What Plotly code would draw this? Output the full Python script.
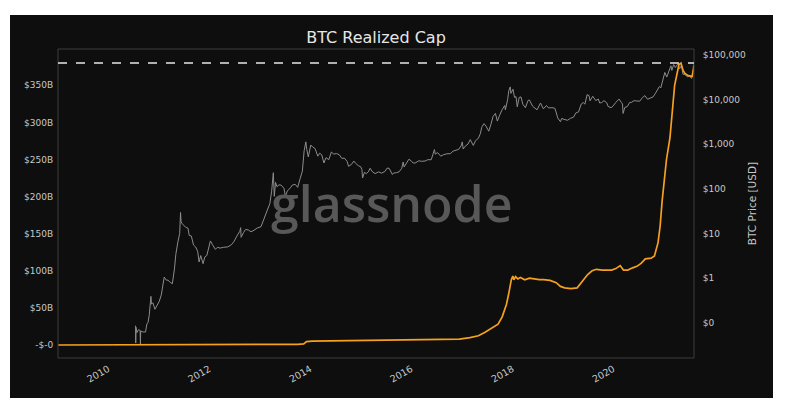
import plotly.graph_objects as go

# ---------------- data ----------------
price_dates = [
    "2010-07-18", "2010-07-19", "2010-07-21", "2010-07-28", "2010-08-08", "2010-08-20", "2010-08-22", "2010-08-24",
    "2010-09-10", "2010-09-28", "2010-10-08", "2010-10-16", "2010-10-25", "2010-11-06", "2010-11-10", "2010-11-20",
    "2010-12-05", "2010-12-20", "2011-01-05", "2011-01-20", "2011-02-10", "2011-02-25", "2011-03-10", "2011-03-25",
    "2011-04-10", "2011-04-25", "2011-05-05", "2011-05-20", "2011-06-02", "2011-06-08", "2011-06-12", "2011-06-20",
    "2011-07-01", "2011-07-15", "2011-08-01", "2011-08-10", "2011-08-25", "2011-09-10", "2011-09-25", "2011-10-10",
    "2011-10-20", "2011-11-01", "2011-11-18", "2011-12-01", "2011-12-15", "2012-01-01", "2012-01-10", "2012-01-25",
    "2012-02-15", "2012-03-01", "2012-03-20", "2012-04-15", "2012-05-15", "2012-06-10", "2012-06-30", "2012-07-20",
    "2012-08-10", "2012-08-16", "2012-08-19", "2012-09-05", "2012-09-20", "2012-10-10", "2012-10-30", "2012-11-20",
    "2012-12-15", "2013-01-10", "2013-01-30", "2013-02-15", "2013-03-01", "2013-03-15", "2013-03-28", "2013-04-09",
    "2013-04-16", "2013-04-25", "2013-05-05", "2013-05-20", "2013-06-05", "2013-06-25", "2013-07-05", "2013-07-20",
    "2013-08-10", "2013-08-25", "2013-09-15", "2013-10-02", "2013-10-20", "2013-11-05", "2013-11-18", "2013-11-30",
    "2013-12-07", "2013-12-18", "2013-12-28", "2014-01-05", "2014-01-20", "2014-02-05", "2014-02-25", "2014-03-10",
    "2014-03-25", "2014-04-10", "2014-04-25", "2014-05-15", "2014-06-03", "2014-06-20", "2014-07-10", "2014-07-30",
    "2014-08-18", "2014-09-05", "2014-09-25", "2014-10-05", "2014-10-25", "2014-11-12", "2014-11-25", "2014-12-15",
    "2014-12-31", "2015-01-10", "2015-01-14", "2015-01-28", "2015-02-10", "2015-02-25", "2015-03-10", "2015-03-25",
    "2015-04-15", "2015-05-10", "2015-06-01", "2015-06-25", "2015-07-10", "2015-07-25", "2015-08-18", "2015-08-25",
    "2015-09-15", "2015-10-05", "2015-10-25", "2015-11-04", "2015-11-11", "2015-11-25", "2015-12-15", "2015-12-30",
    "2016-01-15", "2016-01-30", "2016-02-25", "2016-03-15", "2016-04-10", "2016-04-30", "2016-05-25", "2016-06-05",
    "2016-06-17", "2016-06-23", "2016-07-10", "2016-08-02", "2016-08-20", "2016-09-15", "2016-10-10", "2016-10-30",
    "2016-11-20", "2016-12-10", "2016-12-30", "2017-01-04", "2017-01-11", "2017-01-25", "2017-02-15", "2017-03-03",
    "2017-03-25", "2017-04-10", "2017-04-30", "2017-05-15", "2017-05-25", "2017-06-10", "2017-06-25", "2017-07-15",
    "2017-07-30", "2017-08-15", "2017-09-01", "2017-09-15", "2017-09-30", "2017-10-20", "2017-11-08", "2017-11-12",
    "2017-11-28", "2017-12-07", "2017-12-17", "2017-12-22", "2018-01-06", "2018-01-17", "2018-01-28", "2018-02-06",
    "2018-02-20", "2018-03-05", "2018-03-18", "2018-04-06", "2018-04-25", "2018-05-05", "2018-05-28", "2018-06-15",
    "2018-06-29", "2018-07-24", "2018-08-14", "2018-09-05", "2018-09-20", "2018-10-15", "2018-11-05", "2018-11-20",
    "2018-11-25", "2018-12-15", "2018-12-25", "2019-01-10", "2019-02-05", "2019-02-25", "2019-03-20", "2019-04-05",
    "2019-04-25", "2019-05-15", "2019-05-30", "2019-06-10", "2019-06-26", "2019-07-10", "2019-07-17", "2019-08-06",
    "2019-08-28", "2019-09-15", "2019-09-25", "2019-10-10", "2019-10-26", "2019-11-15", "2019-11-25", "2019-12-17",
    "2019-12-31", "2020-01-20", "2020-02-12", "2020-02-28", "2020-03-08", "2020-03-12", "2020-03-25", "2020-04-10",
    "2020-04-30", "2020-05-10", "2020-05-31", "2020-06-20", "2020-07-10", "2020-07-30", "2020-08-17", "2020-09-05",
    "2020-09-25", "2020-10-15", "2020-10-30", "2020-11-15", "2020-11-30", "2020-12-10", "2020-12-20", "2021-01-08",
    "2021-01-22", "2021-02-08", "2021-02-21", "2021-02-28", "2021-03-13", "2021-03-25", "2021-04-13", "2021-04-25",
    "2021-05-08", "2021-05-19", "2021-06-01", "2021-06-22", "2021-07-05", "2021-07-20", "2021-07-30", "2021-08-07",
]
price_usd = [
    0.086, 0.035, 0.079, 0.06, 0.07, 0.067, 0.033, 0.065,
    0.062, 0.062, 0.095, 0.10, 0.15, 0.39, 0.26, 0.28,
    0.20, 0.25, 0.30, 0.42, 1.05, 0.90, 0.90, 0.80,
    0.75, 1.6, 3.4, 6.5, 10, 29.6, 18.5, 16.5,
    15.4, 13.8, 13.1, 9.0, 8.8, 5.5, 5.0, 4.0,
    2.3, 3.2, 2.1, 3.0, 3.2, 5.3, 6.8, 5.6,
    4.4, 4.9, 4.7, 4.9, 5.0, 5.6, 6.7, 8.8,
    11.2, 13.5, 8.2, 10.4, 12.3, 12.0, 10.9, 11.8,
    13.3, 14.2, 20.4, 27, 34, 47, 89, 230,
    68, 140, 112, 123, 121, 103, 68, 90,
    105, 122, 126, 108, 170, 250, 720, 1130,
    760, 520, 740, 960, 860, 800, 540, 630,
    580, 380, 500, 450, 670, 600, 620, 580,
    480, 490, 410, 320, 350, 420, 375, 330,
    315, 270, 175, 235, 220, 240, 290, 245,
    220, 240, 225, 245, 290, 290, 210, 225,
    230, 240, 290, 400, 310, 360, 460, 430,
    380, 380, 425, 415, 420, 450, 450, 580,
    760, 600, 650, 540, 580, 610, 615, 700,
    730, 770, 960, 1130, 780, 900, 1010, 1270,
    940, 1200, 1350, 1720, 2400, 2900, 2550, 1960,
    2750, 4200, 4900, 3300, 4340, 6000, 7400, 5900,
    9900, 16000, 19300, 13800, 17100, 11200, 11700, 6900,
    11200, 11500, 7900, 6600, 9600, 9800, 7100, 6500,
    5900, 8400, 6200, 7400, 6500, 6600, 6400, 4500,
    3900, 3200, 3800, 3600, 3450, 3800, 4050, 5000,
    5300, 8000, 8600, 7900, 12900, 12300, 9400, 11900,
    9500, 10300, 8400, 8600, 9500, 8500, 7000, 6600,
    7200, 8700, 10300, 8700, 8000, 4900, 6700, 6900,
    8700, 8600, 9500, 9300, 9200, 11100, 12300, 10200,
    10700, 11500, 13500, 16000, 19700, 18300, 24000, 40600,
    32000, 46500, 57400, 45200, 61200, 52300, 63500, 49000,
    58800, 37000, 36700, 32500, 33800, 29800, 42000, 44500,
]

rcap_dates = [
    "2009-01-03", "2010-07-18", "2011-06-01", "2012-06-01", "2013-01-01", "2013-04-15", "2013-10-01", "2013-11-15",
    "2013-11-25", "2013-12-05", "2014-01-15", "2014-06-01", "2015-01-01", "2015-06-01", "2016-01-01", "2016-06-15",
    "2016-12-15", "2017-03-01", "2017-05-01", "2017-06-15", "2017-08-15", "2017-09-20", "2017-10-20", "2017-11-20",
    "2017-12-05", "2017-12-25", "2018-01-05", "2018-01-12", "2018-01-25", "2018-02-10", "2018-03-01", "2018-04-01",
    "2018-05-05", "2018-06-01", "2018-07-15", "2018-08-15", "2018-10-01", "2018-11-15", "2018-12-15", "2019-01-15",
    "2019-03-01", "2019-04-15", "2019-05-20", "2019-06-30", "2019-08-01", "2019-09-01", "2019-10-15", "2019-11-20",
    "2019-12-20", "2020-01-20", "2020-02-20", "2020-03-15", "2020-04-15", "2020-05-20", "2020-06-20", "2020-07-20",
    "2020-08-20", "2020-10-01", "2020-10-25", "2020-11-20", "2020-12-05", "2020-12-20", "2021-01-05", "2021-01-20",
    "2021-02-14", "2021-03-20", "2021-04-20", "2021-05-05", "2021-05-20", "2021-06-02", "2021-06-25", "2021-07-10",
    "2021-07-25", "2021-08-03", "2021-08-07",
]
rcap_billion = [
    0.0, 0.0, 0.05, 0.15, 0.25, 0.6, 0.9, 1.6,
    3.0, 4.6, 5.3, 5.6, 5.8, 5.9, 6.3, 6.8,
    8.0, 10.0, 12.5, 17, 24, 28, 38, 55,
    68, 88, 93, 88, 92, 89, 91, 88,
    90, 89, 88, 88, 87, 84, 79, 77,
    76, 77, 85, 95, 100, 102, 101, 101,
    101, 103, 107, 101, 101, 104, 106, 110,
    116, 117, 120, 138, 160, 195, 220, 250,
    279, 350, 378, 380, 370, 366, 363, 362,
    362, 372, 378,
]

left_tickvals = [0, 50, 100, 150, 200, 250, 300, 350]
left_ticktext = ["-$-0", "$50B", "$100B", "$150B", "$200B", "$250B", "$300B", "$350B"]
right_tickvals = [0.1, 1, 10, 100, 1000, 10000, 100000]
right_ticktext = ["$0", "$1", "$10", "$100", "$1,000", "$10,000", "$100,000"]

# ---------------- style ----------------
BG = "#0e0e0e"
FONT = "DejaVu Sans"
TICK_COL = "#c8c8c8"
OFF = 8  # page body margin
W, H = 786, 398
ML, MR, MT, MB = 50, 100, 41, 48
PW, PH = W - ML - MR, H - MT - MB


def px_x(p):  # screen x pixel -> paper x
    return (p - OFF - ML) / PW


def px_y(p):  # screen y pixel -> paper y
    return (H - MB - (p - OFF)) / PH


fig = go.Figure()
fig.add_trace(go.Scatter(
    x=price_dates, y=price_usd, mode="lines", yaxis="y",
    line=dict(color="#8c8c8c", width=1), name="Price", showlegend=False,
))
fig.add_trace(go.Scatter(
    x=rcap_dates, y=rcap_billion, mode="lines", yaxis="y2",
    line=dict(color="#f5a01e", width=1.7), name="Realized Cap", showlegend=False,
))

shapes = [
    dict(type="rect", xref="paper", yref="paper", x0=px_x(10), x1=px_x(773), y0=px_y(420), y1=px_y(15),
         fillcolor=BG, line=dict(width=0), layer="below"),
    dict(type="rect", xref="paper", yref="paper", x0=0, x1=1, y0=0, y1=1,
         line=dict(color="#3c3c3c", width=1), layer="above"),
    dict(type="line", xref="paper", yref="y2", x0=0, x1=1, y0=max(rcap_billion), y1=max(rcap_billion),
         line=dict(color="#e8e8e8", width=1.5, dash="dash"), layer="above"),
]

fig.update_layout(
    width=W, height=H,
    margin=dict(l=ML, r=MR, t=MT, b=MB),
    paper_bgcolor="white", plot_bgcolor=BG,
    font=dict(family=FONT, color=TICK_COL, size=9),
    title=dict(text="BTC Realized Cap", x=(376 - OFF) / W, xanchor="center",
               y=1 - (37 - OFF) / H, yanchor="middle", yref="container",
               font=dict(family=FONT, size=16, color="#e6e6e6")),
    xaxis=dict(showgrid=False, zeroline=False, tickangle=-30, tickformat="%Y",
               tick0="2010-01-01", dtick="M24", tickfont=dict(size=9.5, color=TICK_COL),
               ticks="outside", ticklen=1, tickcolor=BG, showline=False),
    yaxis=dict(type="log", side="right", range=[-1.791, 5.1345], showgrid=False, zeroline=False,
               tickvals=right_tickvals, ticktext=right_ticktext, tickfont=dict(size=9, color=TICK_COL),
               ticks="outside", ticklen=6, tickcolor=BG,
               title=dict(text="BTC Price [USD]", font=dict(size=10.5, color=TICK_COL), standoff=3)),
    yaxis2=dict(overlaying="y", side="left", range=[-17.5, 398.9], showgrid=False, zeroline=False,
                tickvals=left_tickvals, ticktext=left_ticktext, tickfont=dict(size=9, color=TICK_COL),
                ticks="outside", ticklen=2, tickcolor=BG),
    shapes=shapes,
    annotations=[dict(text="glassnode", xref="paper", yref="paper", x=px_x(392), y=px_y(203),
                      xanchor="center", yanchor="middle", showarrow=False,
                      font=dict(family="Open Sans", size=50, color="#585858", weight=600))],
)

fig.write_html("out.html")
